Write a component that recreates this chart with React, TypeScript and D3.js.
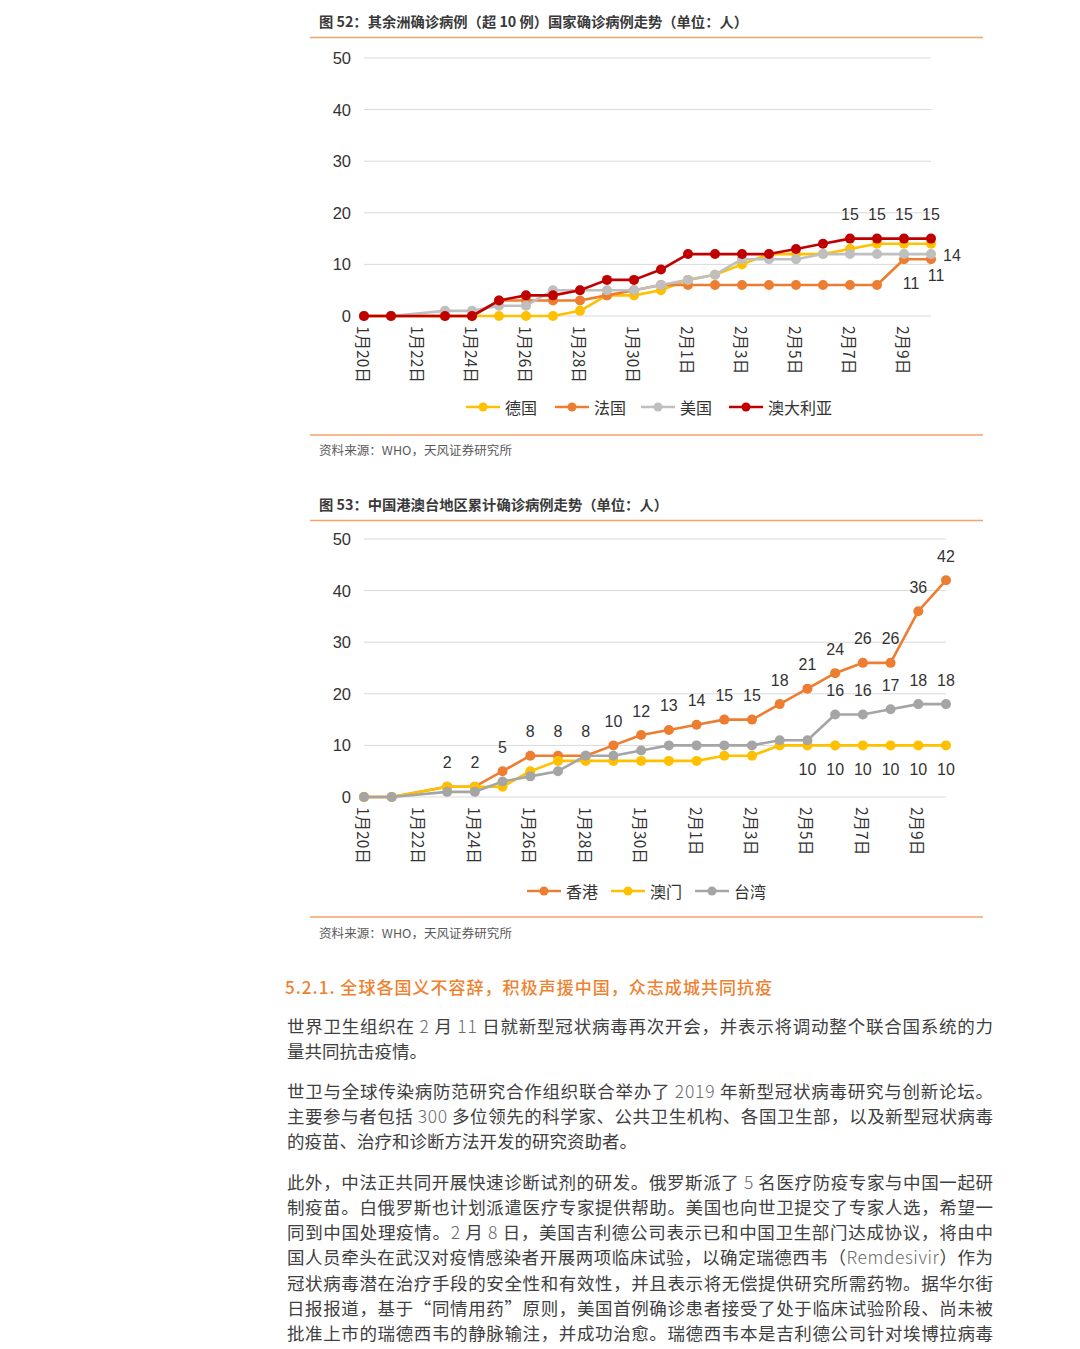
import React from 'react';
import * as d3 from 'd3';

const days = ["1月20日","1月21日","1月22日","1月23日","1月24日","1月25日","1月26日","1月27日","1月28日","1月29日","1月30日","1月31日","2月1日","2月2日","2月3日","2月4日","2月5日","2月6日","2月7日","2月8日","2月9日","2月10日"];

// Chart 52
const c1Names = ["德国", "法国", "美国", "澳大利亚"];
const c1Colors = ["#FFC000", "#ED7D31", "#BFBFBF", "#C00000"];
const germany = [0,0,null,0,0,0,0,0,1,4,4,5,7,8,10,12,12,12,13,14,14,14];
const france = [0,0,null,0,0,3,3,3,3,4,5,6,6,6,6,6,6,6,6,6,11,11];
const usa = [0,0,null,1,1,2,2,5,5,5,5,6,7,8,11,11,11,12,12,12,12,12];
const australia = [0,0,null,0,0,3,4,4,5,7,7,9,12,12,12,12,13,14,15,15,15,15];

// Chart 53
const c2Names = ["香港", "澳门", "台湾"];
const c2Colors = ["#ED7D31", "#FFC000", "#A5A5A5"];
const hongkong = [0,0,null,2,2,5,8,8,8,10,12,13,14,15,15,18,21,24,26,26,36,42];
const macau = [0,0,null,2,2,2,5,7,7,7,7,7,7,8,8,10,10,10,10,10,10,10];
const taiwan = [0,0,null,1,1,3,4,5,8,8,9,10,10,10,10,11,11,16,16,17,18,18];

const yTicks = [0, 10, 20, 30, 40, 50];

const title1 = "图 52：其余洲确诊病例（超 10 例）国家确诊病例走势（单位：人）";
const title2 = "图 53：中国港澳台地区累计确诊病例走势（单位：人）";
const sourceText = "资料来源：WHO，天风证券研究所";

const heading = "5.2.1. 全球各国义不容辞，积极声援中国，众志成城共同抗疫";
const paragraphs = [
  ["世界卫生组织在 2 月 11 日就新型冠状病毒再次开会，并表示将调动整个联合国系统的力",
   "量共同抗击疫情。"],
  ["世卫与全球传染病防范研究合作组织联合举办了 2019 年新型冠状病毒研究与创新论坛。",
   "主要参与者包括 300 多位领先的科学家、公共卫生机构、各国卫生部，以及新型冠状病毒",
   "的疫苗、治疗和诊断方法开发的研究资助者。"],
  ["此外，中法正共同开展快速诊断试剂的研发。俄罗斯派了 5 名医疗防疫专家与中国一起研",
   "制疫苗。白俄罗斯也计划派遣医疗专家提供帮助。美国也向世卫提交了专家人选，希望一",
   "同到中国处理疫情。2 月 8 日，美国吉利德公司表示已和中国卫生部门达成协议，将由中",
   "国人员牵头在武汉对疫情感染者开展两项临床试验，以确定瑞德西韦（Remdesivir）作为",
   "冠状病毒潜在治疗手段的安全性和有效性，并且表示将无偿提供研究所需药物。据华尔街",
   "日报报道，基于“同情用药”原则，美国首例确诊患者接受了处于临床试验阶段、尚未被",
   "批准上市的瑞德西韦的静脉输注，并成功治愈。瑞德西韦本是吉利德公司针对埃博拉病毒"],
];

const CJK = '"Noto Sans CJK SC", "Noto Sans", sans-serif';
const NUM = '"Liberation Sans", Arial, "Noto Sans CJK SC", sans-serif';
const ORANGE_RULE = "#F2A46A";

type Label = { idx: number; pos: 'above' | 'below' | 'right'; dx?: number; dy?: number };
type Series = { name: string; color: string; values: (number | null)[]; labels: Label[] };

function LineChart(props: {
  top: number; title: string; titleLen: number; series: Series[];
  x0: number; x1: number; yBottom: number; yTop: number;
  legendY: number; legendX: number[]; bottomRule: number; sourceY: number;
}) {
  const { top, title, titleLen, series, x0, x1, yBottom, yTop, legendY, legendX, bottomRule, sourceY } = props;
  const x = d3.scalePoint<number>().domain(days.map((_, i) => i)).range([x0, x1]);
  const y = d3.scaleLinear().domain([0, 50]).range([yBottom, yTop]);
  const line = d3.line<{ i: number; v: number }>().x(d => x(d.i)!).y(d => y(d.v));
  return (
    <g>
      <text x={319} y={top + 5} fontFamily={CJK} fontSize={14} fontWeight={700} fill="#3a3a3a"
        textLength={titleLen} lengthAdjust="spacingAndGlyphs">{title}</text>
      <line x1={310} x2={983} y1={top + 15.5} y2={top + 15.5} stroke={ORANGE_RULE} strokeWidth={1.5} />
      {yTicks.map(t => (
        <g key={t}>
          {t > 0 && <line x1={x0} x2={x1} y1={y(t)} y2={y(t)} stroke="#D9D9D9" strokeWidth={1} />}
          <text x={351} y={y(t)} textAnchor="end" dominantBaseline="central" fontFamily={NUM} fontSize={16.5} fill="#333">{t}</text>
        </g>
      ))}
      <line x1={x0} x2={x1} y1={y(0)} y2={y(0)} stroke="#D9D9D9" strokeWidth={1.2} />
      {days.map((d, i) => i % 2 === 0 ? (
        <text key={d} transform={`translate(${x(i)},${y(0) + 10}) rotate(90)`} textAnchor="start"
          dominantBaseline="central" fontFamily={CJK} fontSize={15.5} fill="#333">{d}</text>
      ) : null)}
      {series.map(s => {
        const pts = s.values.map((v, i) => ({ i, v })).filter(p => p.v !== null) as { i: number; v: number }[];
        return (
          <g key={s.name}>
            <path d={line(pts)!} fill="none" stroke={s.color} strokeWidth={2.6} strokeLinejoin="round" />
            {pts.map(p => <circle key={p.i} cx={x(p.i)} cy={y(p.v)} r={5} fill={s.color} />)}
          </g>
        );
      })}
      {series.map(s => s.labels.map(l => {
        const v = s.values[l.idx] as number;
        const cx = x(l.idx)! + (l.dx || 0);
        const cy = y(v) + (l.pos === 'above' ? -24 : l.pos === 'below' ? 24 : 0) + (l.dy || 0);
        return (
          <text key={s.name + l.idx} x={cx} y={cy} textAnchor={l.pos === 'right' ? 'start' : 'middle'}
            dominantBaseline="central" fontFamily={NUM} fontSize={16} fill="#333">{v}</text>
        );
      }))}
      {series.map((s, k) => (
        <g key={'lg' + s.name}>
          <line x1={legendX[k]} x2={legendX[k] + 34} y1={legendY} y2={legendY} stroke={s.color} strokeWidth={2.6} />
          <circle cx={legendX[k] + 17} cy={legendY} r={4.5} fill={s.color} />
          <text x={legendX[k] + 39} y={legendY} dominantBaseline="central" fontFamily={CJK} fontSize={16} fill="#333">{s.name}</text>
        </g>
      ))}
      <line x1={310} x2={983} y1={bottomRule} y2={bottomRule} stroke={ORANGE_RULE} strokeWidth={1.5} />
      <text x={319} y={sourceY} dominantBaseline="central" fontFamily={CJK} fontSize={12} fill="#595959"
        textLength={193} lengthAdjust="spacingAndGlyphs">{sourceText}</text>
    </g>
  );
}

function TextLine({ text, x, y, width, justify, fill, size }: { text: string; x: number; y: number; width: number; justify: boolean; fill: string; size: number }) {
  const parts = text.split(/([A-Za-z0-9]+)/).filter(p => p.length > 0);
  return (
    <text x={x} y={y} dominantBaseline="central" fontFamily={CJK} fontSize={size} fill={fill}
      {...(justify ? { textLength: width, lengthAdjust: 'spacing' } : {})}>
      {parts.map((p, i) => /^[A-Za-z0-9]+$/.test(p)
        ? <tspan key={i} fill="#6a6a6a" fontWeight={300}>{p}</tspan>
        : <tspan key={i}>{p}</tspan>)}
    </text>
  );
}

export default function App() {
  const s1: Series[] = [
    { name: c1Names[0], color: c1Colors[0], values: germany, labels: [{ idx: 21, pos: 'right', dx: 12, dy: 12 }] },
    { name: c1Names[1], color: c1Colors[1], values: france, labels: [{ idx: 20, pos: 'below', dx: 7 }, { idx: 21, pos: 'below', dx: 5, dy: -8 }] },
    { name: c1Names[2], color: c1Colors[2], values: usa, labels: [] },
    { name: c1Names[3], color: c1Colors[3], values: australia, labels: [18, 19, 20, 21].map(i => ({ idx: i, pos: 'above' as const })) },
  ];
  const s2: Series[] = [
    { name: c2Names[0], color: c2Colors[0], values: hongkong, labels: d3.range(3, 22).map(i => ({ idx: i, pos: 'above' as const })) },
    { name: c2Names[1], color: c2Colors[1], values: macau, labels: d3.range(16, 22).map(i => ({ idx: i, pos: 'below' as const })) },
    { name: c2Names[2], color: c2Colors[2], values: taiwan, labels: d3.range(17, 22).map(i => ({ idx: i, pos: 'above' as const })) },
  ];
  const lineYs = [[1025, 1050], [1090, 1115, 1140], [1181, 1206, 1231, 1256, 1282, 1307, 1332]];
  return (
    <svg width={1080} height={1349} style={{ position: 'absolute', left: 0, top: 0, background: '#fff' }}>
      <rect width={1080} height={1349} fill="#fff" />
      <LineChart top={22} title={title1} titleLen={429} series={s1} x0={364} x1={931} yBottom={316} yTop={58}
        legendY={407} legendX={[466, 555, 641, 729]} bottomRule={435} sourceY={449} />
      <LineChart top={505} title={title2} titleLen={349} series={s2} x0={364} x1={946} yBottom={797} yTop={539}
        legendY={891} legendX={[527, 611, 695]} bottomRule={917} sourceY={932} />
      <text x={285} y={986} dominantBaseline="central" fontFamily={CJK} fontSize={17} fontWeight={500} fill="#EE822F"
        textLength={487} lengthAdjust="spacing">{heading}</text>
      {paragraphs.map((para, pi) => para.map((ln, li) => (
        <TextLine key={pi + '-' + li} text={ln} x={287} y={lineYs[pi][li]} width={706}
          justify={li < para.length - 1 || pi === 2} fill="#404040" size={17.5} />
      )))}
    </svg>
  );
}
